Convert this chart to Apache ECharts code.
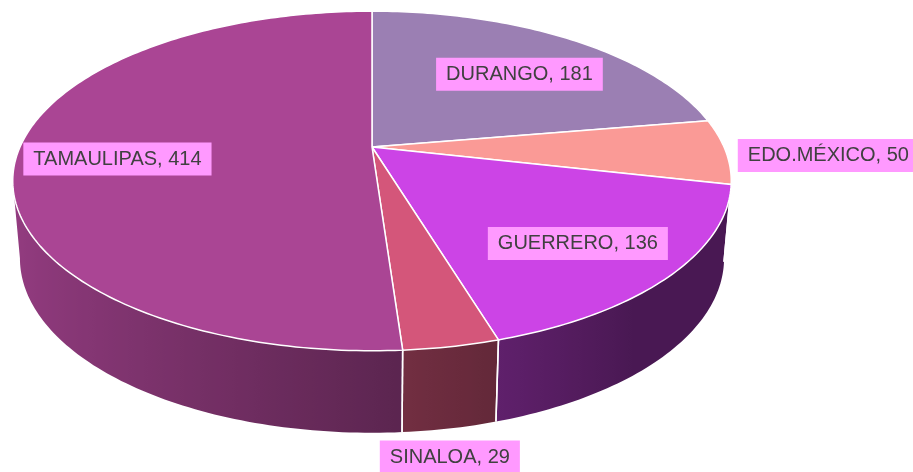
<!DOCTYPE html>
<html>
<head>
<meta charset="utf-8">
<script src="https://cdn.jsdelivr.net/npm/echarts@6/dist/echarts.min.js"></script>
<style>
html, body { margin: 0; padding: 0; background: #fff; }
#main { width: 913px; height: 472px; }
</style>
</head>
<body>
<div id="main"></div>
<script>
var estados = ['DURANGO', 'EDO.MÉXICO', 'GUERRERO', 'SINALOA', 'TAMAULIPAS'];
var casos = [181, 50, 136, 29, 414];
var colores = ['#9b7fb3', '#fa9a96', '#cc44e6', '#d4567a', '#aa4594'];

var total = casos.reduce(function (a, b) { return a + b; }, 0);
var inicio = [];
var acum = 0;
casos.forEach(function (v) { inicio.push(acum); acum += v; });

// disco visto en perspectiva
var CX = 372, CY = 147, RX = 352, RY = 163, Q = 0.2;
var T_DER = Math.acos(-Q), T_IZQ = 2 * Math.PI - T_DER;

function tope(t, f) {
    if (f == null) f = 1;
    var x = f * Math.sin(t), z = f * Math.cos(t);
    var w = 1 / (1 + Q * z);
    return [CX + RX * x * w, CY - RY * z * w];
}
function fondo(t) {
    var p = tope(t);
    return [CX + (p[0] - CX) * 0.98, p[1] + 76 - 6 * Math.cos(t)];
}
function sombra(hex, k) {
    var n = parseInt(hex.slice(1), 16);
    var r = Math.round(((n >> 16) & 255) * k);
    var g = Math.round(((n >> 8) & 255) * k);
    var b = Math.round((n & 255) * k);
    return 'rgb(' + r + ',' + g + ',' + b + ')';
}
function luz(t) {
    return Math.max(0.36, 0.56 - 0.32 * Math.sin(t));
}

function renderItem(params, api) {
    var i = params.dataIndex;
    var v0 = api.value(0), v = api.value(1);
    var a0 = v0 / total * 2 * Math.PI;
    var a1 = (v0 + v) / total * 2 * Math.PI;
    var color = colores[i];
    var hijos = [];
    var paso = Math.PI / 180;

    // pared lateral, una sola pieza con degradado horizontal
    var w0 = Math.max(a0, T_DER), w1 = Math.min(a1, T_IZQ);
    if (w1 > w0) {
        var n = Math.max(2, Math.ceil((w1 - w0) / paso));
        var arriba = [], abajo = [], ts = [];
        for (var k = 0; k <= n; k++) {
            var t = w0 + (w1 - w0) * k / n;
            ts.push(t);
            arriba.push(tope(t));
            abajo.push(fondo(t));
        }
        var todos = arriba.concat(abajo.slice().reverse());
        var xs = todos.map(function (p) { return p[0]; });
        var xmin = Math.min.apply(null, xs), xmax = Math.max.apply(null, xs);
        var stops = [];
        for (var s = n; s >= 0; s--) {
            var off = (arriba[s][0] - xmin) / (xmax - xmin);
            off = Math.min(1, Math.max(0, off));
            if (stops.length && off < stops[stops.length - 1].offset) off = stops[stops.length - 1].offset;
            stops.push({ offset: off, color: sombra(color, luz(ts[s])) });
        }
        hijos.push({
            type: 'polygon', z2: 1,
            shape: { points: todos },
            style: { fill: new echarts.graphic.LinearGradient(0, 0, 1, 0, stops) }
        });
        [a0, a1].forEach(function (t) {
            if (t > T_DER && t < T_IZQ) {
                var p = tope(t), q = fondo(t);
                hijos.push({
                    type: 'line', z2: 2,
                    shape: { x1: p[0], y1: p[1], x2: q[0], y2: q[1] },
                    style: { stroke: '#fff', lineWidth: 1.5 }
                });
            }
        });
    }

    // cara superior
    var pts = [[CX, CY]];
    var m = Math.max(2, Math.ceil((a1 - a0) / paso));
    for (var j = 0; j <= m; j++) pts.push(tope(a0 + (a1 - a0) * j / m));
    hijos.push({
        type: 'polygon', z2: 3,
        shape: { points: pts },
        style: { fill: color, stroke: '#fff', lineWidth: 1.5 }
    });

    // etiqueta
    var mid = (a0 + a1) / 2;
    var pos, align = 'center', valign = 'middle';
    if (v / total >= 0.1) {
        pos = tope(mid, 0.72);
        pos = [pos[0], pos[1] + 8];
    } else if (mid > T_DER && mid < T_IZQ) {
        pos = fondo(mid);
        pos = [pos[0], pos[1] + 12];
        valign = 'top';
    } else {
        pos = tope(mid);
        var der = Math.sin(mid) > 0;
        pos = [pos[0] + (der ? 12 : -12), pos[1] + 4];
        align = der ? 'left' : 'right';
    }
    hijos.push({
        type: 'text', z2: 10,
        x: pos[0], y: pos[1],
        style: {
            text: estados[i] + ', ' + v,
            font: '20px "Liberation Sans", Arial, sans-serif',
            fill: '#404040',
            backgroundColor: '#ff99ff',
            padding: [7, 10, 6, 10],
            align: align,
            verticalAlign: valign
        }
    });

    return { type: 'group', children: hijos };
}

var chart = echarts.init(document.getElementById('main'), null, { renderer: 'canvas' });
var option = {
    backgroundColor: '#ffffff',
    animation: false,
    series: [{
        type: 'custom',
        coordinateSystem: 'none',
        renderItem: renderItem,
        data: casos.map(function (v, i) {
            return { name: estados[i], value: [inicio[i], v] };
        })
    }]
};
chart.setOption(option);
</script>
</body>
</html>
